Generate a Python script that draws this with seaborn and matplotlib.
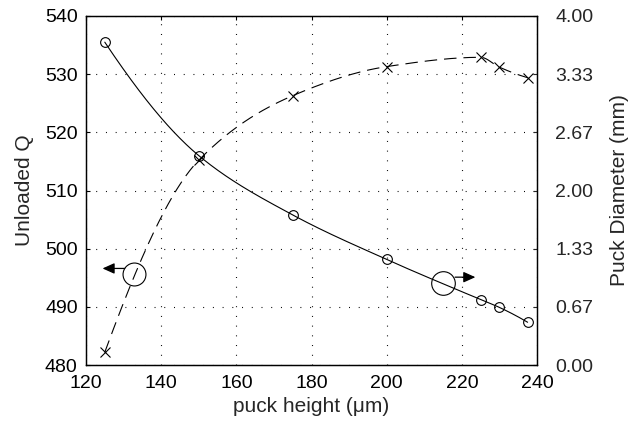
import numpy as np
import pandas as pd
import matplotlib
matplotlib.use("Agg")
import matplotlib.pyplot as plt
import seaborn as sns

# ---- data ----
puck_height = [125, 150, 175, 200, 225, 230, 237.5]
unloaded_q = [482.2, 515.2, 526.3, 531.3, 532.9, 531.2, 529.4]      # dashed, x markers, left axis
puck_diameter = [3.70, 2.40, 1.72, 1.21, 0.75, 0.66, 0.49]          # solid, o markers, right axis

x_ticks = [120, 140, 160, 180, 200, 220, 240]
left_ticks = [480, 490, 500, 510, 520, 530, 540]
right_ticks = [0, 4 / 6, 8 / 6, 2, 16 / 6, 20 / 6, 4]
right_labels = ["0.00", "0.67", "1.33", "2.00", "2.67", "3.33", "4.00"]


def smooth_curve(x, y, n=400):
    """Shape-preserving (PCHIP) cubic through the data points, for drawing the line."""
    x = np.asarray(x, float)
    y = np.asarray(y, float)
    h = np.diff(x)
    delta = np.diff(y) / h
    k = len(x)
    d = np.zeros(k)
    for i in range(1, k - 1):
        if delta[i - 1] * delta[i] > 0:
            w1 = 2 * h[i] + h[i - 1]
            w2 = h[i] + 2 * h[i - 1]
            d[i] = (w1 + w2) / (w1 / delta[i - 1] + w2 / delta[i])
        else:
            d[i] = 0.0

    def end_slope(h0, h1, del0, del1):
        dd = ((2 * h0 + h1) * del0 - h0 * del1) / (h0 + h1)
        if np.sign(dd) != np.sign(del0):
            dd = 0.0
        elif np.sign(del0) != np.sign(del1) and abs(dd) > abs(3 * del0):
            dd = 3 * del0
        return dd

    d[0] = end_slope(h[0], h[1], delta[0], delta[1])
    d[-1] = end_slope(h[-1], h[-2], delta[-1], delta[-2])

    xs = np.linspace(x[0], x[-1], n)
    idx = np.clip(np.searchsorted(x, xs) - 1, 0, k - 2)
    t = (xs - x[idx]) / h[idx]
    h00 = 2 * t ** 3 - 3 * t ** 2 + 1
    h10 = t ** 3 - 2 * t ** 2 + t
    h01 = -2 * t ** 3 + 3 * t ** 2
    h11 = t ** 3 - t ** 2
    ys = (h00 * y[idx] + h10 * h[idx] * d[idx]
          + h01 * y[idx + 1] + h11 * h[idx] * d[idx + 1])
    return xs, ys


sns.set_style("white")
plt.rcParams["font.family"] = ["Liberation Sans", "DejaVu Sans"]
plt.rcParams["lines.scale_dashes"] = False

df = pd.DataFrame({"h": puck_height, "q": unloaded_q, "d": puck_diameter})
qx, qy = smooth_curve(puck_height, unloaded_q)
dx, dy = smooth_curve(puck_height, puck_diameter)
df_q = pd.DataFrame({"h": qx, "q": qy})
df_d = pd.DataFrame({"h": dx, "d": dy})

fig = plt.figure(figsize=(6.32, 4.24), dpi=100)
ax = fig.add_axes([86 / 632, 59 / 424, 451 / 632, 349 / 424])
ax2 = ax.twinx()

# left axis: unloaded Q (dashed, x markers)
sns.lineplot(data=df_q, x="h", y="q", ax=ax, color="black", lw=0.8,
             linestyle=(0, (9, 5)), sort=False)
ax.plot(df["h"], df["q"], linestyle="none", marker="x", ms=7, mew=0.8, color="black")

# right axis: puck diameter (solid, circle markers)
sns.lineplot(data=df_d, x="h", y="d", ax=ax2, color="black", lw=0.8, sort=False)
ax2.plot(df["h"], df["d"], linestyle="none", marker="o", ms=7, mew=0.8,
         mfc="none", color="black")

ax.set_xlim(120, 240)
ax.set_ylim(480, 540)
ax2.set_ylim(0, 4)
ax.set_xticks(x_ticks)
ax.set_yticks(left_ticks)
ax2.set_yticks(right_ticks)
ax2.set_yticklabels(right_labels)

ax.grid(True, color="black", lw=0.8, linestyle=(0, (0.7, 6.3)))
ax2.grid(False)

ax.set_xlabel("puck height (\u03bcm)", fontsize=15, labelpad=4)
ax.set_ylabel("Unloaded Q", fontsize=15, labelpad=8)
ax2.set_ylabel("Puck Diameter (mm)", fontsize=15, labelpad=12)

ax.tick_params(axis="both", direction="in", length=3, width=0.8, labelsize=14,
               top=True, colors="black")
ax.tick_params(axis="x", pad=7)
ax.tick_params(axis="y", pad=6)
ax2.tick_params(axis="y", direction="in", length=3, width=0.8, labelsize=14, pad=13)

for a in (ax, ax2):
    for s in a.spines.values():
        s.set_visible(True)
        s.set_color("black")
        s.set_linewidth(0.9)

# annotation circles with arrows
ax.plot([132.85], [495.7], marker="o", ms=16.5, mfc="none", mec="black", mew=0.8)
ax.annotate("", xy=(124.4, 496.6), xytext=(130.3, 496.6),
            arrowprops=dict(arrowstyle="-|>,head_length=0.6,head_width=0.27",
                            color="black", lw=0.9, mutation_scale=12,
                            shrinkA=0, shrinkB=0))
ax.plot([215.1], [494.05], marker="o", ms=17, mfc="none", mec="black", mew=0.8)
ax.annotate("", xy=(223.6, 495.1), xytext=(218.2, 495.1),
            arrowprops=dict(arrowstyle="-|>,head_length=0.6,head_width=0.27",
                            color="black", lw=0.9, mutation_scale=12,
                            shrinkA=0, shrinkB=0))

fig.savefig("out.png", dpi=100)
